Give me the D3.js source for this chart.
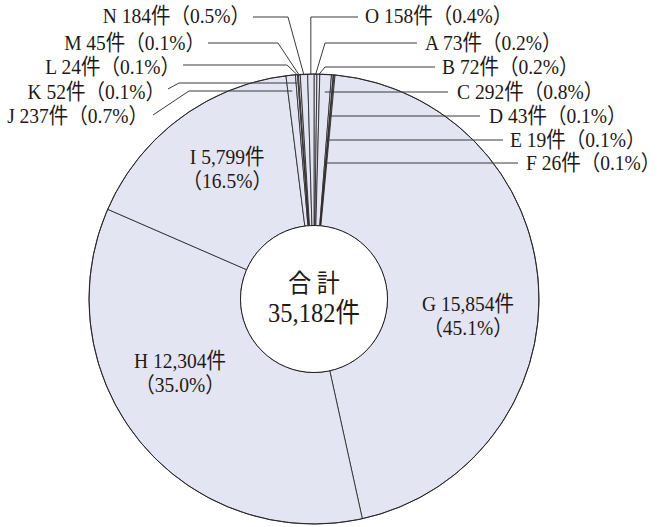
<!DOCTYPE html>
<html>
<head>
<meta charset="utf-8">
<script src="https://cdn.jsdelivr.net/npm/d3@7"></script>
<style>
  html, body { margin: 0; padding: 0; background: #fff; }
  svg text { font-family: "Liberation Serif", "Noto Sans CJK JP", serif; fill: #231815; }
</style>
</head>
<body>
<svg id="chart" width="661" height="527"></svg>
<script>
// ---- data ----
const categories = ["A","B","C","D","E","F","G","H","I","J","K","L","M","N","O"];
const counts = [73, 72, 292, 43, 19, 26, 15854, 12304, 5799, 237, 52, 24, 45, 184, 158];
const centerTitle = "合 計";
const unit = "件";

// ---- layout (positions/styles, not data) ----
const cx = 314, cy = 299, R = 225, R0 = 73.5;
const fill = "#e3e5f3";
const baseSize = 19.5, drawSize = 21.5;

const leaders = {
  A: {mode:"edge", elbow:[325,43], end:[417,43], side:"right", text:[425,43]},
  B: {mode:"edge", elbow:[325,67], end:[435,67], side:"right", text:[442,67]},
  C: {mode:"y", lineY:92, end:[448,92], side:"right", text:[457,92]},
  D: {mode:"y", lineY:116, end:[480,116], side:"right", text:[489,116]},
  E: {mode:"y", lineY:140, end:[503,140], side:"right", text:[510,140]},
  F: {mode:"y", lineY:163, end:[518,163], side:"right", text:[526,163]},
  J: {mode:"y", lineY:91, elbowX:189, end:[153,115], side:"left", text:[148,116]},
  K: {mode:"y", lineY:83, elbowX:179, end:[168,89], side:"left", text:[165,92]},
  L: {mode:"edge", elbow:[287,65], end:[183,65], side:"left", text:[180,67]},
  M: {mode:"edge", elbow:[278,43], end:[208,43], side:"left", text:[205,43]},
  N: {mode:"edge", elbow:[288,17], end:[253,17], side:"left", text:[250,16]},
  O: {mode:"vert", lineY:17, end:[358,17], side:"right", text:[365,16]}
};
const inner = {
  G: {angle: 96.3, r: 155},
  H: {angle: 241.1, r: 153},
  I: {angle: 326.2, r: 156}
};

const total = d3.sum(counts);
const fmt = d3.format(",");
const pct = v => (v / total * 100).toFixed(1) + "%";
const data = categories.map((c, i) => ({cat: c, v: counts[i]}));

const svg = d3.select("#chart");
const g = svg.append("g").attr("transform", `translate(${cx},${cy})`);

// render text taller but keep the width of a smaller size (condensed, like the original face)
function fit(sel, small, big) {
  sel.style("font-size", small + "px");
  const w = sel.node().getComputedTextLength();
  sel.style("font-size", big + "px").attr("textLength", w).attr("lengthAdjust", "spacingAndGlyphs");
  return sel;
}

const pie = d3.pie().sort(null).value(d => d.v).startAngle(0).endAngle(2 * Math.PI);
const arcs = pie(data);
const arc = d3.arc().innerRadius(R0).outerRadius(R);

g.selectAll("path.slice").data(arcs).join("path")
  .attr("class", "slice")
  .attr("d", arc)
  .attr("fill", fill)
  .attr("stroke", "#231f20")
  .attr("stroke-width", 0.8)
  .attr("stroke-linejoin", "round");

g.append("circle").attr("r", R).attr("fill", "none").attr("stroke", "#231f20").attr("stroke-width", 0.9);
g.append("circle").attr("r", R0).attr("fill", "#fff").attr("stroke", "#231f20").attr("stroke-width", 1);

fit(g.append("text").attr("x", 0).attr("y", -16).attr("text-anchor", "middle")
  .attr("dominant-baseline", "central").text(centerTitle), 23, 25);
fit(g.append("text").attr("x", 0).attr("y", 14).attr("text-anchor", "middle")
  .attr("dominant-baseline", "central").text(fmt(total) + unit), 24.5, 27);

const lineLayer = svg.append("g");
const textLayer = svg.append("g");
arcs.forEach(a => {
  const L = leaders[a.data.cat];
  if (!L) return;
  const mid = (a.startAngle + a.endAngle) / 2;
  let ax, ay;
  if (L.mode === "y") {
    const r = (cy - L.lineY) / Math.cos(mid);
    ax = cx + r * Math.sin(mid); ay = L.lineY;
  } else {
    const r = R - 1;
    ax = cx + r * Math.sin(mid); ay = cy - r * Math.cos(mid);
  }
  let pts;
  if (L.mode === "y") {
    pts = [[ax, ay]];
    if (L.elbowX !== undefined) pts.push([L.elbowX, L.lineY]);
    pts.push(L.end);
  } else if (L.mode === "vert") {
    pts = [[ax, ay], [ax, L.lineY], L.end];
  } else {
    pts = [[ax, ay], L.elbow, L.end];
  }
  lineLayer.append("path")
    .attr("d", d3.line()(pts))
    .attr("fill", "none")
    .attr("stroke", "#3a3a3a")
    .attr("stroke-width", 1);
  fit(textLayer.append("text")
    .attr("x", L.text[0]).attr("y", L.text[1])
    .attr("text-anchor", L.side === "left" ? "end" : "start")
    .attr("dominant-baseline", "central")
    .text(`${a.data.cat} ${fmt(a.data.v)}${unit}（${pct(a.data.v)}）`), baseSize, drawSize);
});

arcs.forEach(a => {
  const P = inner[a.data.cat];
  if (!P) return;
  const ang = P.angle * Math.PI / 180;
  const x = cx + P.r * Math.sin(ang), y = cy - P.r * Math.cos(ang);
  fit(textLayer.append("text").attr("text-anchor", "middle").attr("x", x).attr("y", y - 12)
    .attr("dominant-baseline", "central").text(`${a.data.cat} ${fmt(a.data.v)}${unit}`), baseSize, drawSize);
  fit(textLayer.append("text").attr("text-anchor", "middle").attr("x", x).attr("y", y + 12)
    .attr("dominant-baseline", "central").text(`（${pct(a.data.v)}）`), baseSize, drawSize);
});
</script>
</body>
</html>
